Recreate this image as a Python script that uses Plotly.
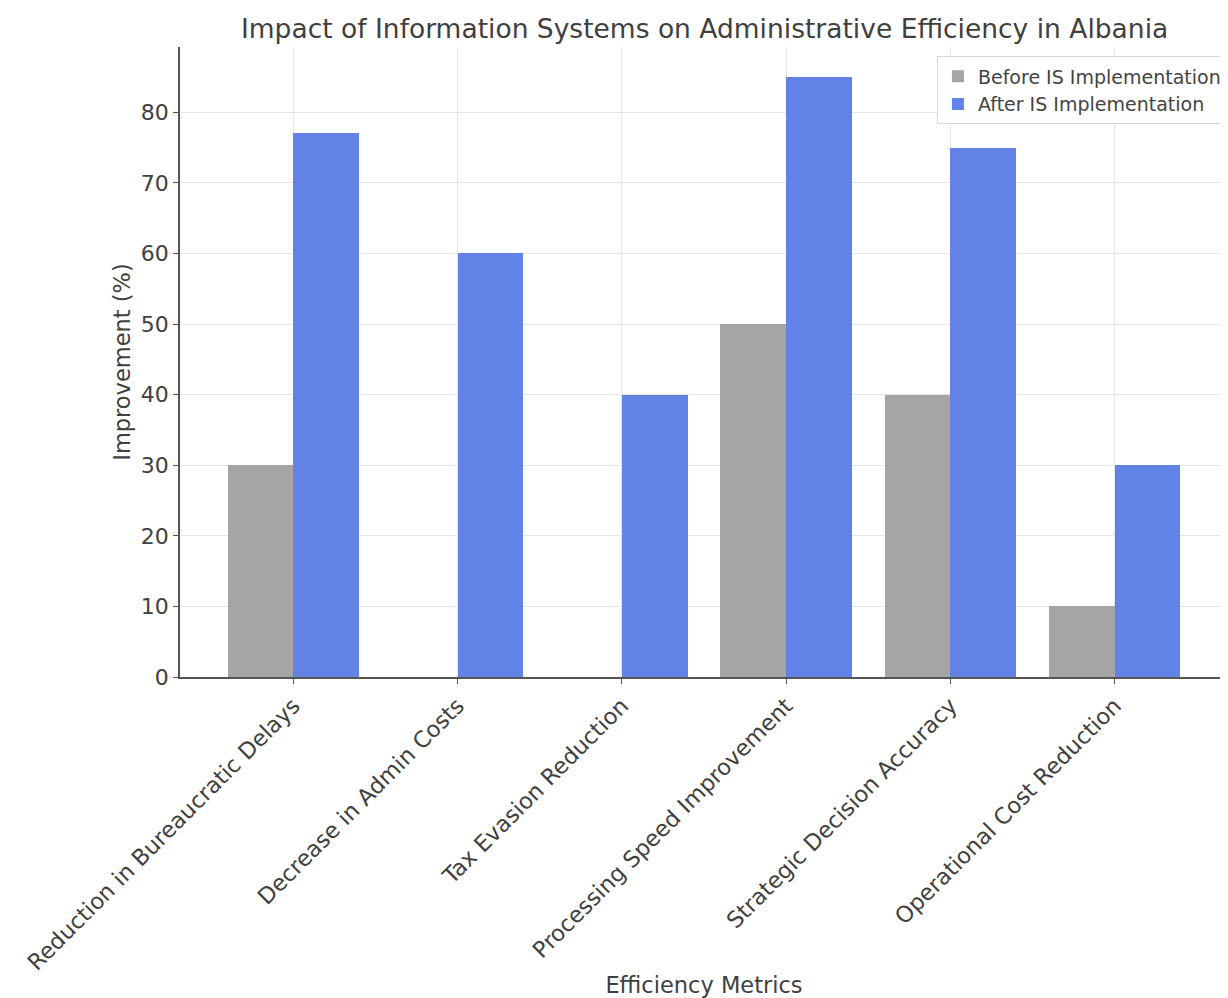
import plotly.graph_objects as go

categories = [
    "Reduction in Bureaucratic Delays",
    "Decrease in Admin Costs",
    "Tax Evasion Reduction",
    "Processing Speed Improvement",
    "Strategic Decision Accuracy",
    "Operational Cost Reduction",
]
before_vals = [30, 0, 0, 50, 40, 10]
after_vals = [77, 60, 40, 85, 75, 30]
y_ticks = [0, 10, 20, 30, 40, 50, 60, 70, 80]

x_idx = list(range(len(categories)))
font_family = "DejaVu Sans"
text_color = "#404040"

fig = go.Figure()
fig.add_trace(go.Bar(
    x=[i - 0.2 for i in x_idx], y=before_vals, width=0.4,
    name="Before IS Implementation", marker=dict(color="#a5a5a5", line=dict(width=0)),
))
fig.add_trace(go.Bar(
    x=[i + 0.2 for i in x_idx], y=after_vals, width=0.4,
    name="After IS Implementation", marker=dict(color="#6282e6", line=dict(width=0)),
))

# page body has an 8px margin; figure sized to fill the 1228x998 view
fig.update_layout(
    width=1220, height=990,
    margin=dict(l=172, r=0, t=39, b=321),
    paper_bgcolor="white", plot_bgcolor="white",
    font=dict(family=font_family, color=text_color, size=22),
    title=dict(
        text="Impact of Information Systems on Administrative Efficiency in Albania",
        x=0.571, xanchor="center", y=0.979, yanchor="middle",
        font=dict(size=26.5, color=text_color),
    ),
    barmode="overlay",
    bargap=0,
    showlegend=True,
    legend=dict(
        x=0.999, xanchor="right", y=0.985, yanchor="top",
        bgcolor="rgba(255,255,255,0.85)", bordercolor="#d8d8d8", borderwidth=1,
        font=dict(size=19, color="#444444"),
        tracegroupgap=0,
    ),
    xaxis=dict(
        range=[-0.69, 5.69], automargin=False,
        tickmode="array", tickvals=x_idx, ticktext=categories,
        tickangle=-45, tickfont=dict(size=22.5, color=text_color),
        showgrid=True, gridcolor="#e6e6e6", gridwidth=1,
        showline=True, linecolor="#555555", linewidth=1.5,
        ticks="outside", ticklen=5, tickcolor="#555555",
        zeroline=False,
        title=dict(text="Efficiency Metrics", font=dict(size=22.5, color=text_color), standoff=10),
    ),
    yaxis=dict(
        range=[0, 89.25], automargin=False,
        tickmode="array", tickvals=y_ticks,
        tickfont=dict(size=22, color=text_color),
        showgrid=True, gridcolor="#e6e6e6", gridwidth=1,
        showline=True, linecolor="#555555", linewidth=1.5,
        ticks="outside", ticklen=5, tickcolor="#555555",
        zeroline=False,
        title=dict(text="Improvement (%)", font=dict(size=22.5, color=text_color), standoff=4),
    ),
)

fig.write_html("out.html")
